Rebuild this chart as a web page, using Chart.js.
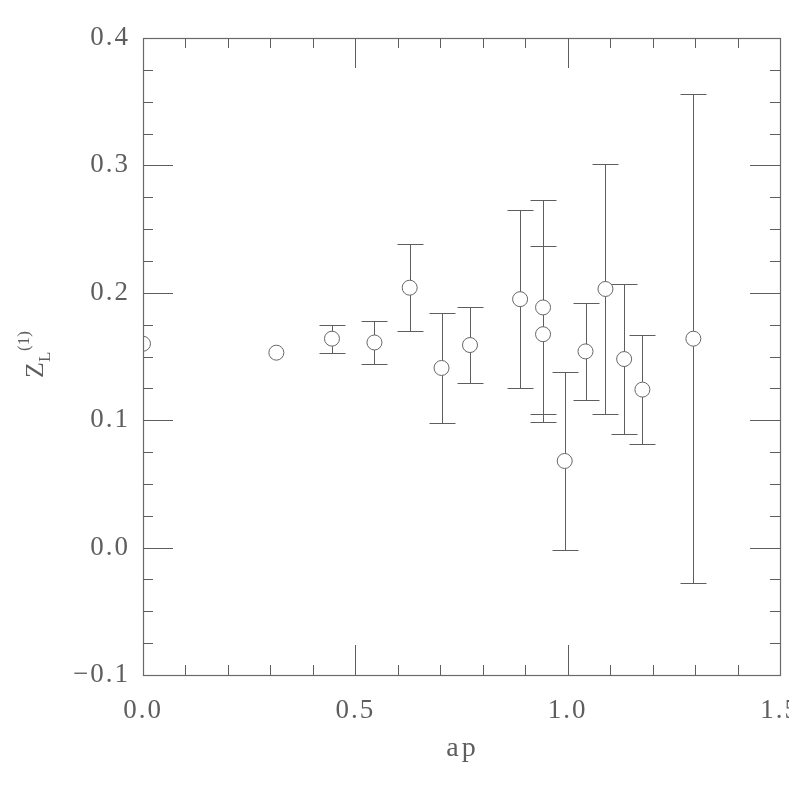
<!DOCTYPE html>
<html>
<head>
<meta charset="utf-8">
<script src="https://cdn.jsdelivr.net/npm/chart.js@4/dist/chart.umd.min.js"></script>
<style>
html,body{margin:0;padding:0;background:#fff;}
canvas{display:block;}
</style>
</head>
<body>
<canvas id="c" width="789" height="789"></canvas>
<script>
// ---- data ----
const apValues = [0.000, 0.314, 0.445, 0.545, 0.628, 0.703, 0.770, 0.888, 0.942, 0.942, 0.993, 1.042, 1.089, 1.133, 1.176, 1.296];
const zValues  = [0.160, 0.153, 0.164, 0.161, 0.204, 0.141, 0.159, 0.195, 0.1885, 0.1675, 0.068, 0.154, 0.203, 0.148, 0.124, 0.164];
const zErrors  = [0.000, 0.000, 0.011, 0.017, 0.034, 0.043, 0.030, 0.070, 0.084, 0.069, 0.070, 0.038, 0.098, 0.059, 0.043, 0.192];
const xTickValues = [0.0, 0.5, 1.0, 1.5];
const yTickValues = [-0.1, 0.0, 0.1, 0.2, 0.3, 0.4];
const xTitle = 'ap';
const yTitleMain = 'Z', yTitleSub = 'L', yTitleSup = '(1)';

const INK = '#5e5e5e';
const FONT = "'Liberation Serif', serif";

function fmt(v){
  if (Math.abs(v) < 1e-9) return '0.0';
  return v < 0 ? '\u2212' + Math.abs(v).toFixed(1) : v.toFixed(1);
}

const spacingPlugin = {
  id: 'spacing',
  beforeDraw(chart){ chart.ctx.letterSpacing = '2px'; }
};

const errorBars = {
  id: 'errorBars',
  beforeDatasetsDraw(chart){
    const {ctx, scales:{x, y}} = chart;
    ctx.save();
    ctx.strokeStyle = INK;
    ctx.lineWidth = 1;
    for (let i = 0; i < apValues.length; i++){
      const e = zErrors[i];
      if (!e) continue;
      const px = Math.round(x.getPixelForValue(apValues[i])) + 0.5;
      const yt = Math.round(y.getPixelForValue(zValues[i] + e)) + 0.5;
      const yb = Math.round(y.getPixelForValue(zValues[i] - e)) + 0.5;
      ctx.beginPath();
      ctx.moveTo(px, yt); ctx.lineTo(px, yb);
      ctx.moveTo(px - 13, yt); ctx.lineTo(px + 13, yt);
      ctx.moveTo(px - 13, yb); ctx.lineTo(px + 13, yb);
      ctx.stroke();
    }
    ctx.restore();
  }
};

const frame = {
  id: 'frame',
  afterDraw(chart){
    const {ctx, chartArea:{left, right, top, bottom}, scales:{x, y}} = chart;
    ctx.save();
    ctx.letterSpacing = '0px';
    ctx.strokeStyle = '#6a6a6a';
    ctx.lineWidth = 1.2;
    ctx.strokeRect(Math.round(left) + 0.5, Math.round(top) + 0.5, Math.round(right - left), Math.round(bottom - top));
    ctx.lineWidth = 1;
    ctx.strokeStyle = INK;
    ctx.beginPath();
    // x ticks every 0.1, major every 0.5
    for (let i = 1; i < 15; i++){
      const px = Math.round(x.getPixelForValue(i / 10)) + 0.5;
      const len = (i % 5 === 0) ? 30 : 10;
      ctx.moveTo(px, bottom); ctx.lineTo(px, bottom - len);
      ctx.moveTo(px, top); ctx.lineTo(px, top + len);
    }
    // y ticks every 0.025, major every 0.1
    for (let i = 1; i < 20; i++){
      const py = Math.round(y.getPixelForValue(-0.1 + i * 0.025)) + 0.5;
      const len = (i % 4 === 0) ? 30 : 10;
      ctx.moveTo(left, py); ctx.lineTo(left + len, py);
      ctx.moveTo(right, py); ctx.lineTo(right - len, py);
    }
    ctx.stroke();

    // titles
    ctx.fillStyle = INK;
    ctx.letterSpacing = '3px';
    ctx.font = '28px ' + FONT;
    ctx.textAlign = 'center';
    ctx.textBaseline = 'alphabetic';
    ctx.fillText(xTitle, (left + right) / 2 + 1, 756);

    // y title: Z_L^(1), rotated
    ctx.letterSpacing = '0px';
    ctx.save();
    ctx.translate(43, 378);
    ctx.rotate(-Math.PI / 2);
    ctx.textAlign = 'left';
    ctx.font = '26px ' + FONT;
    ctx.fillText(yTitleMain, 0, 0);
    ctx.font = '17px ' + FONT;
    ctx.fillText(yTitleSub, 16, 7);
    ctx.fillText(yTitleSup, 27, -14);
    ctx.restore();
    ctx.restore();
  }
};

new Chart(document.getElementById('c'), {
  type: 'scatter',
  data: {
    datasets: [{
      data: apValues.map((v, i) => ({x: v, y: zValues[i]})),
      pointStyle: 'circle',
      pointRadius: 7.5,
      pointBackgroundColor: '#ffffff',
      pointBorderColor: '#666666',
      pointBorderWidth: 1,
      showLine: false
    }]
  },
  options: {
    responsive: false,
    animation: false,
    devicePixelRatio: 1,
    layout: {padding: {left: 0, right: 9, top: 38, bottom: 0}},
    plugins: {legend: {display: false}, tooltip: {enabled: false}},
    scales: {
      x: {
        type: 'linear', min: 0, max: 1.5,
        afterBuildTicks: s => { s.ticks = xTickValues.map(v => ({value: v})); },
        afterFit: s => { s.height = 114; s.paddingLeft = 0; s.paddingRight = 0; },
        grid: {display: false, drawTicks: false},
        border: {display: false},
        ticks: {
          callback: v => fmt(v),
          maxRotation: 0, autoSkip: false,
          padding: 20,
          color: INK,
          font: {family: FONT, size: 27}
        }
      },
      y: {
        type: 'linear', min: -0.1, max: 0.4,
        afterBuildTicks: s => { s.ticks = yTickValues.map(v => ({value: v})); },
        afterFit: s => { s.width = 143; s.paddingTop = 0; s.paddingBottom = 0; },
        grid: {display: false, drawTicks: false},
        border: {display: false},
        ticks: {
          callback: v => fmt(v),
          autoSkip: false,
          padding: 13,
          color: INK,
          font: {family: FONT, size: 27}
        }
      }
    }
  },
  plugins: [spacingPlugin, errorBars, frame]
});
</script>
</body>
</html>
